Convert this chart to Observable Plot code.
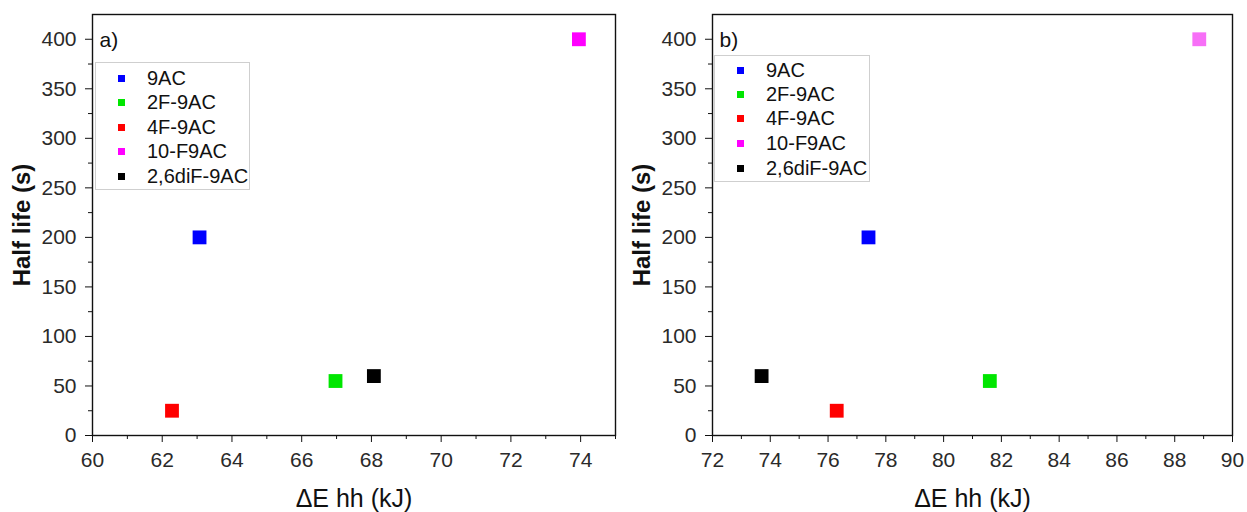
<!DOCTYPE html>
<html>
<head>
<meta charset="utf-8">
<script src="https://cdn.jsdelivr.net/npm/d3@7"></script>
<script src="https://cdn.jsdelivr.net/npm/@observablehq/plot@0.6"></script>
<style>
  body { margin: 0; background: #fff; font-family: "Liberation Sans", Arial, sans-serif; }
  #wrap { position: relative; width: 1247px; height: 512px; overflow: hidden; }
  .panel { position: absolute; top: 0; }
  .legend { position: absolute; border: 1px solid #cfcfcf; background: #fff; box-sizing: border-box; }
  .legend .row { position: absolute; left: 0; height: 20px; display: flex; align-items: center; font-size: 20px; color: #111; white-space: nowrap; }
  .legend .sw { width: 7px; height: 7px; margin-left: 22px; margin-right: 22px; }
</style>
</head>
<body>
<div id="wrap"></div>
<script>
// ---- data ----
const compounds = ["9AC", "2F-9AC", "4F-9AC", "10-F9AC", "2,6diF-9AC"];
const colors = ["#0000ff", "#00e600", "#ff0000", "#ff00ff", "#000000"];
const halfLife = [200, 55, 25, 400, 60];
const energyA = [63.07, 66.97, 62.28, 73.95, 68.07];
const energyB = [77.4, 81.6, 76.3, 88.85, 73.7];
const pointColorsB = ["#0000ff", "#00e600", "#ff0000", "#f76ff7", "#000000"];
const xDomainA = [60, 75];
const xDomainB = [72, 90];
const yDomain = [0, 425];
const xTicksA = [60, 62, 64, 66, 68, 70, 72, 74];
const xMinorA = [61, 63, 65, 67, 69, 71, 73, 75];
const xTicksB = [72, 74, 76, 78, 80, 82, 84, 86, 88, 90];
const xMinorB = [73, 75, 77, 79, 81, 83, 85, 87, 89];
const yTicks = [0, 50, 100, 150, 200, 250, 300, 350, 400];
const yMinor = [25, 75, 125, 175, 225, 275, 325, 375];
const panelLabels = ["a)", "b)"];
const xLabel = "ΔE hh (kJ)";
const yLabel = "Half life (s)";

const wrap = document.getElementById("wrap");
const font = "\"Liberation Sans\", Arial, sans-serif";

function makePanel({energy, ptColors, xDomain, xTicks, xMinor, label, width, marginRight}) {
  const data = compounds.map((c, i) => ({name: c, x: energy[i], y: halfLife[i], color: ptColors[i]}));
  return Plot.plot({
    width, height: 512,
    marginLeft: 92, marginRight, marginTop: 14, marginBottom: 77,
    style: {fontFamily: font, fontSize: "21px", color: "#222", background: "#fff"},
    x: {domain: xDomain, label: null},
    y: {domain: yDomain, label: null},
    marks: [
      Plot.frame({stroke: "#111", strokeWidth: 1.4}),
      Plot.axisX({ticks: xMinor, tickSize: 4, text: null, stroke: "#111", label: null}),
      Plot.axisX({ticks: xTicks, tickSize: 7, tickPadding: 10, fontSize: 21, fill: "#2a2a2a", stroke: "#111", label: null, tickFormat: d => String(d)}),
      Plot.axisY({ticks: yMinor, tickSize: 4, text: null, stroke: "#111", label: null}),
      Plot.axisY({ticks: yTicks, tickSize: 7, tickPadding: 9, fontSize: 21, fill: "#2a2a2a", stroke: "#111", label: null, tickFormat: d => String(d)}),
      Plot.dot(data, {x: "x", y: "y", symbol: "square", r: 7.8, fill: "color", stroke: "none"}),
      Plot.text([label], {frameAnchor: "top-left", lineAnchor: "middle", dx: 7, dy: 26, text: d => d, fontSize: 21, fill: "#111", textAnchor: "start"}),
      Plot.text([xLabel], {frameAnchor: "bottom", lineAnchor: "middle", textAnchor: "middle", dy: 63, text: d => d, fontSize: 25, fill: "#111"}),
      Plot.text([yLabel], {frameAnchor: "left", lineAnchor: "middle", textAnchor: "middle", dx: -70, rotate: -90, text: d => d, fontSize: 24, fontWeight: "bold", fill: "#111"})
    ]
  });
}

function addLegend(left, top, w, h, rowTops) {
  const lg = document.createElement("div");
  lg.className = "legend";
  Object.assign(lg.style, {left: left + "px", top: top + "px", width: w + "px", height: h + "px"});
  compounds.forEach((c, i) => {
    const row = document.createElement("div");
    row.className = "row";
    row.style.top = rowTops[i] + "px";
    const sw = document.createElement("span");
    sw.className = "sw";
    sw.style.background = colors[i];
    const tx = document.createElement("span");
    tx.textContent = c;
    row.appendChild(sw); row.appendChild(tx);
    lg.appendChild(row);
  });
  wrap.appendChild(lg);
}

const pa = makePanel({energy: energyA, ptColors: colors, xDomain: xDomainA, xTicks: xTicksA, xMinor: xMinorA, label: panelLabels[0], width: 623, marginRight: 8});
pa.classList.add("panel"); pa.style.left = "0px";
wrap.appendChild(pa);

const pb = makePanel({energy: energyB, ptColors: pointColorsB, xDomain: xDomainB, xTicks: xTicksB, xMinor: xMinorB, label: panelLabels[1], width: 627, marginRight: 15});
pb.classList.add("panel"); pb.style.left = "620px";
wrap.appendChild(pb);

addLegend(95, 62, 155, 128, [5, 29, 54, 78, 103]);
addLegend(714, 55, 156, 127, [4, 28, 52, 77, 102]);
</script>
</body>
</html>
